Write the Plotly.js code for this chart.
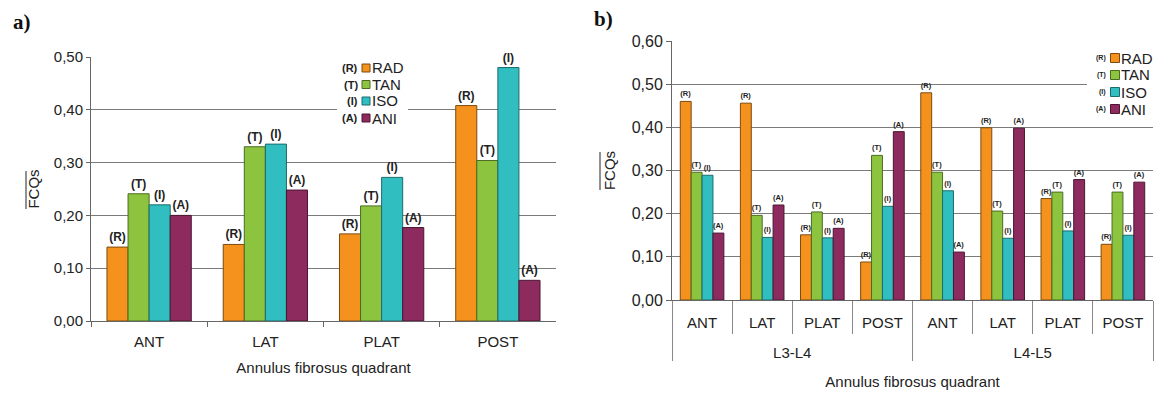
<!DOCTYPE html>
<html>
<head>
<meta charset="utf-8">
<script src="https://cdn.plot.ly/plotly-3.0.1.min.js"></script>
<style>html,body{margin:0;padding:0;background:#fff;}#chart{width:1155px;height:394px;}</style>
</head>
<body>
<div id="chart"></div>
<script>
// ---- data ----
var quadrants = ['ANT', 'LAT', 'PLAT', 'POST'];
var seriesNames = ['RAD', 'TAN', 'ISO', 'ANI'];
var seriesTags = ['(R)', '(T)', '(I)', '(A)'];
var yTicks = ['0,00', '0,10', '0,20', '0,30', '0,40', '0,50', '0,60'];

// panel a)
var aRAD = [0.140, 0.145, 0.165, 0.408];
var aTAN = [0.241, 0.330, 0.218, 0.304];
var aISO = [0.220, 0.335, 0.272, 0.480];
var aANI = [0.200, 0.248, 0.177, 0.077];

// panel b)
var levelNames = ['L3-L4', 'L4-L5'];
var levels = ['L3-L4', 'L3-L4', 'L3-L4', 'L3-L4', 'L4-L5', 'L4-L5', 'L4-L5', 'L4-L5'];
var bQuadrants = ['ANT', 'LAT', 'PLAT', 'POST', 'ANT', 'LAT', 'PLAT', 'POST'];
var bRAD = [0.460, 0.456, 0.151, 0.088, 0.480, 0.399, 0.235, 0.129];
var bTAN = [0.296, 0.196, 0.204, 0.335, 0.296, 0.206, 0.250, 0.250];
var bISO = [0.289, 0.145, 0.144, 0.217, 0.253, 0.143, 0.160, 0.150];
var bANI = [0.155, 0.220, 0.166, 0.390, 0.111, 0.398, 0.279, 0.273];

// ---- styling ----
var fills = ['#F5921E', '#8CC43F', '#30BEC0', '#8D2B5E'];
var edges = ['#7a4a10', '#4d6b22', '#1c6b6c', '#4a1632'];
var W = 1155, H = 394;
function px(x) { return x / W; }
function py(y) { return 1 - y / H; }
var FONT = 'Liberation Sans, Arial, sans-serif';

// outer level labels get an empty first line so they sit lower under the inner row
var levelsShown = levels.map(function (l) { return '<br>' + l; });

var aSeries = [aRAD, aTAN, aISO, aANI];
var bSeries = [bRAD, bTAN, bISO, bANI];
var traces = [];
for (var i = 0; i < 4; i++) {
  traces.push({
    type: 'bar', name: seriesNames[i], x: quadrants, y: aSeries[i],
    xaxis: 'x', yaxis: 'y', showlegend: false,
    marker: {color: fills[i], line: {color: edges[i], width: 1}},
    text: aSeries[i].map(function () { return seriesTags[i]; }),
    textposition: 'outside', constraintext: 'none', cliponaxis: false,
    textfont: {family: FONT, size: 12, weight: 'bold', color: '#222'},
    hoverinfo: 'skip'
  });
}
for (var j = 0; j < 4; j++) {
  traces.push({
    type: 'bar', name: seriesNames[j], x: [levelsShown, bQuadrants], y: bSeries[j],
    xaxis: 'x2', yaxis: 'y2', showlegend: false,
    marker: {color: fills[j], line: {color: edges[j], width: 1}},
    text: bSeries[j].map(function () { return seriesTags[j]; }),
    textposition: 'outside', constraintext: 'none', cliponaxis: false,
    textfont: {family: FONT, size: 7.5, weight: 'bold', color: '#222'},
    hoverinfo: 'skip'
  });
}

// ---- manual legends ----
var shapes = [], annotations = [];
function addLegend(boxX0, boxY0, boxX1, boxY1, rowYs, markX, markHalf, textX, textSize, tagX, tagSize) {
  shapes.push({type: 'rect', xref: 'paper', yref: 'paper', layer: 'above',
    x0: px(boxX0), x1: px(boxX1), y0: py(boxY0), y1: py(boxY1),
    fillcolor: '#fff', line: {width: 0}});
  for (var k = 0; k < 4; k++) {
    shapes.push({type: 'rect', xref: 'paper', yref: 'paper', layer: 'above',
      x0: px(markX - markHalf), x1: px(markX + markHalf),
      y0: py(rowYs[k] + markHalf), y1: py(rowYs[k] - markHalf),
      fillcolor: fills[k], line: {color: edges[k], width: 1}});
    annotations.push({xref: 'paper', yref: 'paper', x: px(textX), y: py(rowYs[k]),
      xanchor: 'left', yanchor: 'middle', showarrow: false, text: seriesNames[k],
      font: {family: FONT, size: textSize, color: '#222'}});
    annotations.push({xref: 'paper', yref: 'paper', x: px(tagX), y: py(rowYs[k]),
      xanchor: 'right', yanchor: 'middle', showarrow: false, text: seriesTags[k],
      font: {family: FONT, size: tagSize, weight: 'bold', color: '#222'}});
  }
}
addLegend(337, 60, 408, 127, [68, 84.5, 101, 118], 366, 4, 370, 15, 360, 11);
addLegend(1087, 46, 1155, 120, [58, 75, 92, 109], 1115, 4.5, 1119, 15, 1108, 7);

annotations.push({xref: 'paper', yref: 'paper', x: px(11), y: py(22), xanchor: 'left', yanchor: 'middle',
  showarrow: false, text: 'a)', font: {family: 'Liberation Serif, Times New Roman, serif', size: 21, weight: 'bold', color: '#111'}});
annotations.push({xref: 'paper', yref: 'paper', x: px(592), y: py(19), xanchor: 'left', yanchor: 'middle',
  showarrow: false, text: 'b)', font: {family: 'Liberation Serif, Times New Roman, serif', size: 21, weight: 'bold', color: '#111'}});

// overline bars over the rotated "FCQs" titles
shapes.push({type: 'line', xref: 'paper', yref: 'paper', x0: px(26), x1: px(26), y0: py(171), y1: py(209), line: {color: '#222', width: 1}});
shapes.push({type: 'line', xref: 'paper', yref: 'paper', x0: px(600), x1: px(600), y0: py(152), y1: py(190), line: {color: '#222', width: 1}});

var yTitle = 'FCQs';
var axisCommon = {
  showline: true, linecolor: '#666', linewidth: 1, ticks: 'outside', tickcolor: '#666',
  tickfont: {family: FONT, size: 15, color: '#222'}, zeroline: false
};

var layout = {
  width: W, height: H, margin: {l: 0, r: 0, t: 0, b: 0},
  paper_bgcolor: '#fff', plot_bgcolor: '#fff',
  separators: ',.',
  barmode: 'group', bargap: 0.275, bargroupgap: 0,
  font: {family: FONT, color: '#222'},
  xaxis: Object.assign({}, axisCommon, {
    domain: [px(91), px(556)], anchor: 'y', type: 'category',
    tickson: 'boundaries', ticklen: 5, ticklabelstandoff: 7, showgrid: false,
    title: {text: 'Annulus fibrosus quadrant', font: {family: FONT, size: 15, color: '#222'}, standoff: 13}
  }),
  yaxis: Object.assign({}, axisCommon, {
    domain: [py(321), py(57)], anchor: 'x', range: [0, 0.5],
    tickvals: [0, 0.1, 0.2, 0.3, 0.4, 0.5], ticktext: yTicks.slice(0, 6),
    ticklen: 4, showgrid: true, gridcolor: '#7a7a7a', gridwidth: 1,
    title: {text: yTitle, font: {family: FONT, size: 15, color: '#222'}, standoff: 10}
  }),
  xaxis2: Object.assign({}, axisCommon, {
    domain: [px(672), px(1153)], anchor: 'y2', type: 'multicategory',
    tickson: 'boundaries', ticklen: 33, tickcolor: '#888', ticklabelstandoff: 9, showgrid: false,
    showdividers: true, dividercolor: '#888', dividerwidth: 1,
    title: {text: 'Annulus fibrosus quadrant', font: {family: FONT, size: 15, color: '#222'}, standoff: 16}
  }),
  yaxis2: Object.assign({}, axisCommon, {
    domain: [py(300), py(41)], anchor: 'x2', range: [0, 0.6],
    tickvals: [0, 0.1, 0.2, 0.3, 0.4, 0.5, 0.6], ticktext: yTicks,
    ticklen: 5, showgrid: true, gridcolor: '#7a7a7a', gridwidth: 1,
    tickfont: {family: FONT, size: 16, color: '#222'},
    title: {text: yTitle, font: {family: FONT, size: 15, color: '#222'}, standoff: 12}
  }),
  shapes: shapes,
  annotations: annotations
};

Plotly.newPlot('chart', traces, layout, {staticPlot: true, displayModeBar: false});
</script>
</body>
</html>
